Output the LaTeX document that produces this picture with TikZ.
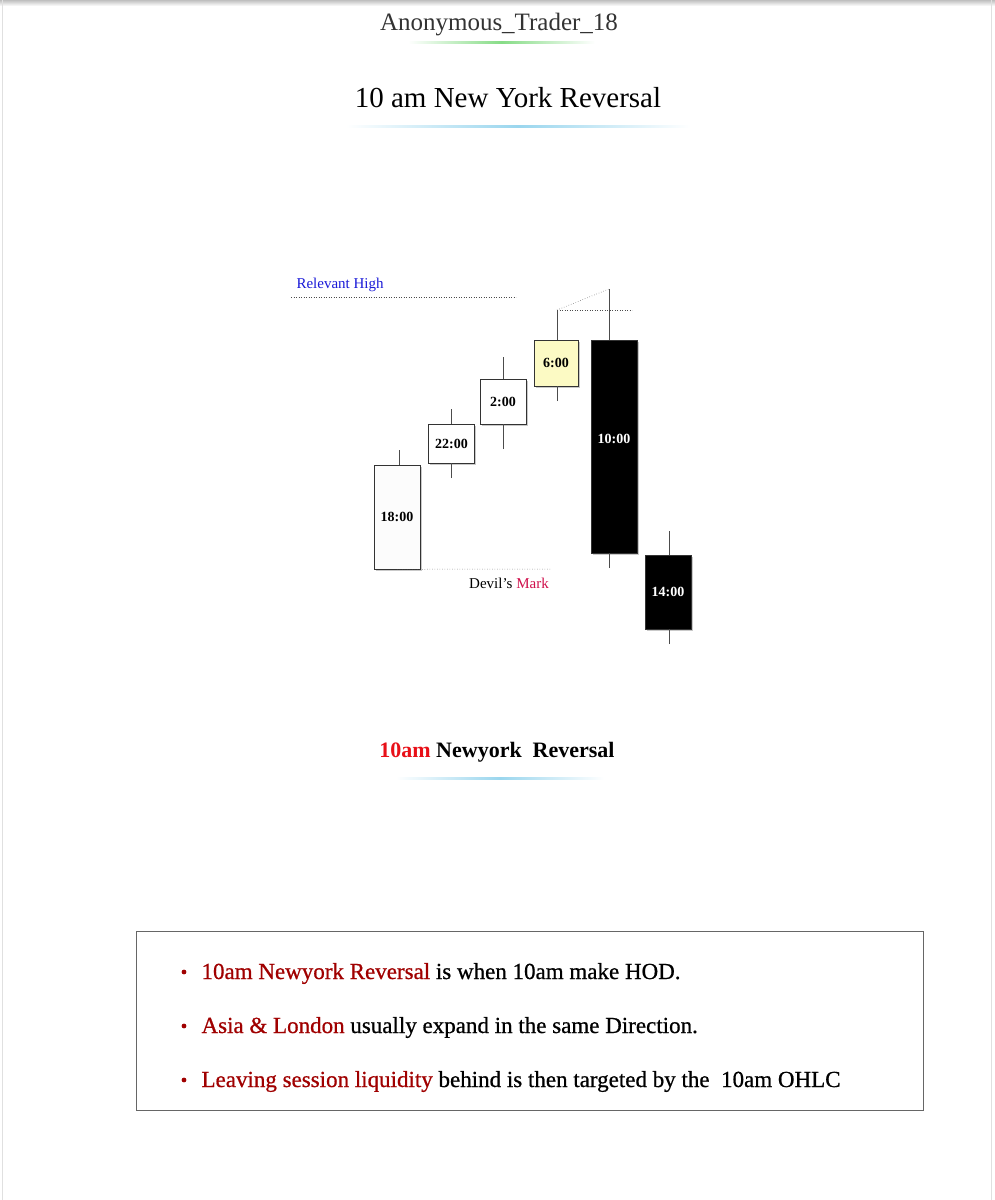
\documentclass[tikz,border=0pt]{standalone}
\usepackage{fontspec}
\setmainfont{Liberation Serif}
\newfontfamily\noteserif[FakeBold=0.7]{Liberation Serif}
\usetikzlibrary{shadows}

\definecolor{hlblue}{HTML}{1A1AD8}
\definecolor{markred}{HTML}{D0104C}
\definecolor{tenred}{HTML}{E81018}
\definecolor{noteredd}{HTML}{A00000}
\definecolor{paleyellow}{HTML}{FCFAC4}
\definecolor{titlecyan}{HTML}{9AD6EE}
\definecolor{namegreen}{HTML}{86DC86}

\tikzset{
  candle/.style={draw=black!80,line width=0.6pt,inner sep=0pt,minimum width=46pt,
    font=\fontsize{14}{16}\selectfont\bfseries,
    drop shadow={shadow xshift=1.5pt,shadow yshift=-1.5pt,fill=black!35,opacity=0.6}},
  bull/.style={candle,fill=white},
  bear/.style={candle,fill=black,text=white},
  wick/.style={draw=black!70,line width=0.6pt},
  level/.style={draw=black!70,line width=0.5pt,dotted},
  note/.style={anchor=base west,font=\noteserif\fontsize{23}{27}\selectfont},
}

\begin{document}
\begin{tikzpicture}[x=1pt,y=-1pt]
% Background
\fill[white] (0,0) rectangle (995,1200);
\useasboundingbox (0,0) rectangle (995,1200);
\shade[top color=black!25,bottom color=white] (0,0) rectangle (995,6);
\draw[black!12,line width=0.8pt] (2,0) -- (2,1200) (991,0) -- (991,1200);
% Headings
\node[anchor=base,font=\fontsize{25}{29}\selectfont,text=black!80] (author) at (499,30) {Anonymous\_Trader\_18};
\shade[left color=white,right color=white,middle color=namegreen] (408,41) rectangle (595,43);
\node[anchor=base,font=\fontsize{29}{33}\selectfont] (title) at (508,107) {10 am New York Reversal};
\shade[left color=white,right color=white,middle color=titlecyan] (346,125) rectangle (690,127);
% Levels
\node[anchor=base west,font=\fontsize{15}{17}\selectfont,text=hlblue] (rhigh) at (293,288) {Relevant High};
\coordinate (rh1) at (291,297);
\coordinate (rh2) at (516,297);
\draw[level] (rh1) -- (rh2);
% Candles
\node[bull,fill=black!1,minimum height=104pt] (c18) at (397,517) {18:00};
\node[bull,minimum height=39pt] (c22) at (451.5,443.5) {\raisebox{-8pt}{22:00}};
\node[bull,minimum height=45pt] (c2) at (503,401.5) {\raisebox{-8pt}{2:00}};
\node[bull,fill=paleyellow,minimum height=46pt,minimum width=44pt] (c6) at (556,363) {\raisebox{-8pt}{6:00}};
\node[bear,minimum height=213pt] (c10) at (614,446.5) {\raisebox{16pt}{10:00}};
\node[bear,minimum height=74pt] (c14) at (668,592) {14:00};
% Wicks
\coordinate (w18t) at (399,450);
\coordinate (w22t) at (451,409);
\coordinate (w22b) at (451,478);
\coordinate (w2t) at (503,357);
\coordinate (w2b) at (503,449);
\coordinate (w6t) at (557,310);
\coordinate (w6b) at (557,401);
\coordinate (w10t) at (609,289);
\coordinate (w10b) at (609,568);
\coordinate (w14t) at (669,531);
\coordinate (w14b) at (669,644);
\draw[wick] (w18t) -- (w18t |- c18.north);
\draw[wick] (w22t) -- (w22t |- c22.north) (w22b) -- (w22b |- c22.south);
\draw[wick] (w2t) -- (w2t |- c2.north) (w2b) -- (w2b |- c2.south);
\draw[wick] (w6t) -- (w6t |- c6.north) (w6b) -- (w6b |- c6.south);
\draw[wick] (w10t) -- (w10t |- c10.north) (w10b) -- (w10b |- c10.south);
\draw[wick] (w14t) -- (w14t |- c14.north) (w14b) -- (w14b |- c14.south);
% High sweep
\coordinate (sw) at (632,310);
\draw[level] (w6t) -- (w10t);
\draw[level] (w6t) -- (sw);
% Devil's mark
\coordinate (dm) at (551,569);
\draw[level] (c18.south) -- (dm);
\node[anchor=base,font=\fontsize{15}{17}\selectfont] (devil) at (509,588) {Devil’s \textcolor{markred}{Mark}};
% Caption
\node[anchor=base,font=\fontsize{22}{26}\selectfont\bfseries] (caption) at (497,757) {\textcolor{tenred}{10am} Newyork\ \ Reversal};
\shade[left color=white,right color=white,middle color=titlecyan] (396,777) rectangle (604,779);
% Notes box
\node[draw=black!60,line width=0.6pt,minimum width=787pt,minimum height=179pt,inner sep=0pt] (box) at (529.5,1020.5) {};
\foreach \yy/\red/\rest [count=\i] in {
  979/{10am Newyork Reversal}/{is when 10am make HOD.},
  1033/{Asia \& London}/{usually expand in the same Direction.},
  1087/{Leaving session liquidity}/{behind is then targeted by the\ \ 10am OHLC}} {
  \fill[noteredd] (184,\yy-7) circle (2.4pt);
  \node[note] (note\i) at (198,\yy) {\textcolor{noteredd}{\red} \rest};
}
\end{tikzpicture}
\end{document}
